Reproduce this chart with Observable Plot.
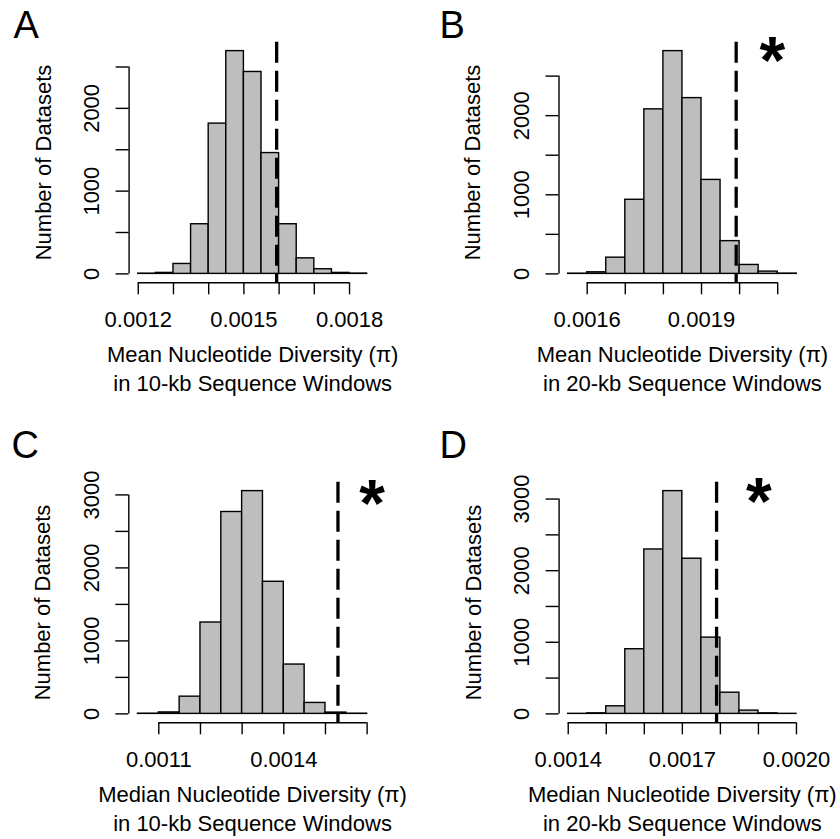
<!DOCTYPE html>
<html>
<head>
<meta charset="utf-8">
<script src="https://cdn.jsdelivr.net/npm/d3@7"></script>
<script src="https://cdn.jsdelivr.net/npm/@observablehq/plot@0.6"></script>
<style>
  html, body { margin: 0; padding: 0; background: #ffffff; }
  #wrap { position: relative; width: 840px; height: 839px; overflow: hidden; background: #ffffff; }
  .panel { position: absolute; }
</style>
</head>
<body>
<div id="wrap"></div>
<script>
// ---------------- DATA ----------------
const binWidth = 0.00005;

// Panel A: mean pi, 10-kb windows
const aLeftEdges = [0.00120, 0.00125, 0.00130, 0.00135, 0.00140, 0.00145, 0.00150, 0.00155, 0.00160, 0.00165, 0.00170, 0.00175, 0.00180];
const aCounts    = [3, 12, 120, 600, 1816, 2692, 2440, 1460, 600, 188, 56, 12, 4];
const aObserved  = 0.001593;
const aXTicks    = [0.0012, 0.0013, 0.0014, 0.0015, 0.0016, 0.0017, 0.0018];
const aXLabels   = [0.0012, 0.0015, 0.0018];
const aYTicks    = [0, 500, 1000, 1500, 2000, 2500];
const aYLabels   = [0, 1000, 2000];
const aTitle     = "Mean Nucleotide Diversity (π)\nin 10-kb Sequence Windows";
const aStar      = [];

// Panel B: mean pi, 20-kb windows
const bLeftEdges = [0.00155, 0.00160, 0.00165, 0.00170, 0.00175, 0.00180, 0.00185, 0.00190, 0.00195, 0.00200, 0.00205, 0.00210];
const bCounts    = [3, 20, 205, 937, 2080, 2816, 2222, 1188, 414, 113, 29, 4];
const bObserved  = 0.001991;
const bXTicks    = [0.0016, 0.0017, 0.0018, 0.0019, 0.0020, 0.0021];
const bXLabels   = [0.0016, 0.0019];
const bYTicks    = [0, 500, 1000, 1500, 2000, 2500];
const bYLabels   = [0, 1000, 2000];
const bTitle     = "Mean Nucleotide Diversity (π)\nin 20-kb Sequence Windows";
const bStar      = [{x: 0.002086, y: 2805}];

// Panel C: median pi, 10-kb windows
const cLeftEdges = [0.00105, 0.00110, 0.00115, 0.00120, 0.00125, 0.00130, 0.00135, 0.00140, 0.00145, 0.00150, 0.00155];
const cCounts    = [3, 20, 236, 1252, 2766, 3052, 1810, 676, 150, 18, 3];
const cObserved  = 0.00153;
const cXTicks    = [0.0011, 0.0012, 0.0013, 0.0014, 0.0015, 0.0016];
const cXLabels   = [0.0011, 0.0014];
const cYTicks    = [0, 500, 1000, 1500, 2000, 2500, 3000];
const cYLabels   = [0, 1000, 2000, 3000];
const cTitle     = "Median Nucleotide Diversity (π)\nin 10-kb Sequence Windows";
const cStar      = [{x: 0.001612, y: 3004}];

// Panel D: median pi, 20-kb windows
const dLeftEdges = [0.00140, 0.00145, 0.00150, 0.00155, 0.00160, 0.00165, 0.00170, 0.00175, 0.00180, 0.00185, 0.00190, 0.00195];
const dCounts    = [1, 8, 106, 903, 2296, 3111, 2167, 1065, 296, 46, 8, 1];
const dObserved  = 0.00179;
const dXTicks    = [0.0014, 0.0015, 0.0016, 0.0017, 0.0018, 0.0019, 0.0020];
const dXLabels   = [0.0014, 0.0017, 0.0020];
const dYTicks    = [0, 500, 1000, 1500, 2000, 2500, 3000];
const dYLabels   = [0, 1000, 2000, 3000];
const dTitle     = "Median Nucleotide Diversity (π)\nin 20-kb Sequence Windows";
const dStar      = [{x: 0.001901, y: 3090}];

const panelLetters = ["A", "B", "C", "D"];
const yTitle = "Number of Datasets";

// ---------------- LAYOUT (positions/styles) ----------------
const layout = [
  {left: 0,   top: 0,   height: 420, mL: 128.6, mR: 44.2, mT: 41.7, mB: 137.7, letterX: 13},
  {left: 420, top: 0,   height: 420, mL: 138.5, mR: 34.6, mT: 41.7, mB: 137.7, letterX: 19},
  {left: 0,   top: 420, height: 419, mL: 128.3, mR: 44.2, mT: 61.7, mB: 116.7, letterX: 11},
  {left: 420, top: 420, height: 419, mL: 138.6, mR: 34.9, mT: 61.7, mB: 116.7, letterX: 19}
];

const panels = [
  {edges: aLeftEdges, counts: aCounts, obs: aObserved, xTicks: aXTicks, xLabels: aXLabels, yTicks: aYTicks, yLabels: aYLabels, title: aTitle, star: aStar},
  {edges: bLeftEdges, counts: bCounts, obs: bObserved, xTicks: bXTicks, xLabels: bXLabels, yTicks: bYTicks, yLabels: bYLabels, title: bTitle, star: bStar},
  {edges: cLeftEdges, counts: cCounts, obs: cObserved, xTicks: cXTicks, xLabels: cXLabels, yTicks: cYTicks, yLabels: cYLabels, title: cTitle, star: cStar},
  {edges: dLeftEdges, counts: dCounts, obs: dObserved, xTicks: dXTicks, xLabels: dXLabels, yTicks: dYTicks, yLabels: dYLabels, title: dTitle, star: dStar}
];

const FONT = "'Liberation Sans', Arial, Helvetica, sans-serif";
const LW = 1.4;
const wrap = document.getElementById("wrap");

panels.forEach((p, i) => {
  const L = layout[i];
  const bins = p.edges.map((e, k) => ({x1: e, x2: e + binWidth, count: p.counts[k]}));
  const lo = p.edges[0];
  const hi = p.edges[p.edges.length - 1] + binWidth;
  const padX = 0.04 * (hi - lo);
  const xLeft = lo - padX;
  const M = d3.max(p.counts);
  const yMin = -0.04 * M;
  const fmtX = d => p.xLabels.some(v => Math.abs(v - d) < 1e-12) ? d.toFixed(4) : "";

  const chart = Plot.plot({
    width: 420,
    height: L.height,
    marginLeft: L.mL,
    marginRight: L.mR,
    marginTop: L.mT,
    marginBottom: L.mB,
    style: {fontFamily: FONT, fontSize: "22px", color: "black", background: "transparent", overflow: "visible"},
    x: {domain: [xLeft, hi + padX]},
    y: {domain: [yMin, 1.04 * M]},
    marks: [
      Plot.rectY(bins, {x1: "x1", x2: "x2", y: "count", fill: "#bebebe", stroke: "black", strokeWidth: LW}),
      Plot.ruleX([p.obs], {stroke: "black", strokeWidth: 3.3, strokeDasharray: "21,8"}),
      Plot.ruleY([yMin], {x1: p.xTicks[0], x2: p.xTicks[p.xTicks.length - 1], stroke: "black", strokeWidth: LW}),
      Plot.ruleX([xLeft], {y1: p.yTicks[0], y2: p.yTicks[p.yTicks.length - 1], stroke: "black", strokeWidth: LW}),
      Plot.axisX({ticks: p.xTicks, tickSize: 12, tickPadding: 17, tickFormat: fmtX, label: null, stroke: "black", strokeWidth: LW, fill: "black"}),
      Plot.axisY({ticks: p.yTicks, tickSize: 13, tickFormat: () => "", label: null, stroke: "black", strokeWidth: LW}),
      Plot.text(p.yLabels, {x: () => xLeft, y: d => d, text: d => String(d), rotate: -90, textAnchor: "middle", lineAnchor: "bottom", dx: -30, fill: "black", fontSize: 22}),
      Plot.text([p.title], {frameAnchor: "bottom", lineAnchor: "top", lineHeight: 1.32, dy: 58.8, fill: "black", fontSize: 22}),
      Plot.text([yTitle], {frameAnchor: "left", rotate: -90, lineAnchor: "bottom", textAnchor: "middle", dx: -78.6, fill: "black", fontSize: 22}),
      Plot.text([panelLetters[i]], {frameAnchor: "top-left", textAnchor: "start", lineAnchor: "bottom", dx: L.letterX - L.mL, dy: 37 - L.mT, fill: "black", fontSize: 38}),
      Plot.text(p.star, {x: "x", y: "y", text: () => "*", fontSize: 66, fontWeight: "bold", fill: "black", lineAnchor: "middle", dy: 10})
    ]
  });
  const div = document.createElement("div");
  div.className = "panel";
  div.style.left = L.left + "px";
  div.style.top = L.top + "px";
  div.appendChild(chart);
  wrap.appendChild(div);
});
</script>
</body>
</html>
